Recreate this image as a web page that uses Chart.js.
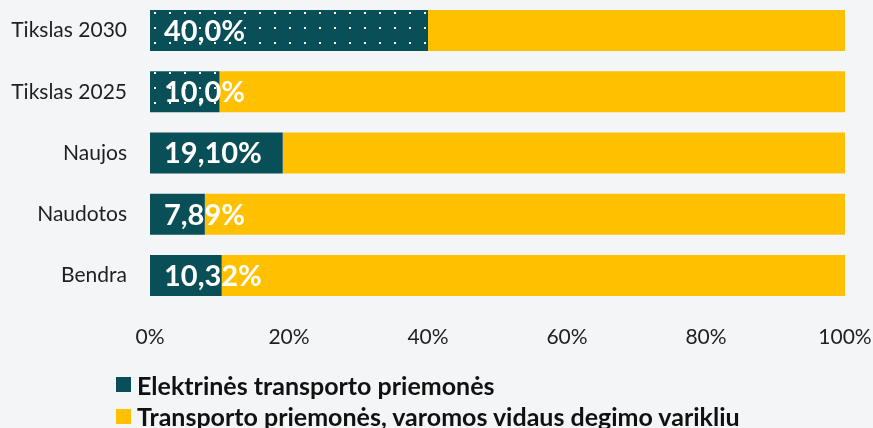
<!DOCTYPE html>
<html lang="lt">
<head>
<meta charset="utf-8">
<title>Elektrinės transporto priemonės</title>
<script src="https://cdn.jsdelivr.net/npm/chart.js@4/dist/chart.umd.min.js"></script>
<style>
    html, body {
        margin: 0;
        padding: 0;
        background: #F4F5F7;
        overflow: hidden;
    }
    #wrap {
        position: relative;
        width: 873px;
        height: 428px;
    }
    #legend {
        position: absolute;
        left: 116px;
        top: 369px;
        font-family: Lato, sans-serif;
        font-weight: bold;
        font-size: 25px;
        color: #111;
        white-space: nowrap;
    }
    .item {
        display: flex;
        align-items: center;
        height: 31.5px;
    }
    .box {
        width: 15px;
        height: 15px;
        margin-right: 6px;
    }
</style>
</head>
<body>
<div id="wrap">
    <canvas id="chart" width="873" height="428"></canvas>
    <div id="legend"></div>
</div>
<script>
// Kategorijos (iš viršaus į apačią)
const categories = ['Tikslas 2030', 'Tikslas 2025', 'Naujos', 'Naudotos', 'Bendra'];

// Serijos
const seriesNames = ['Elektrinės transporto priemonės', 'Transporto priemonės, varomos vidaus degimo varikliu'];
const electricShare = [40.0, 10.0, 19.10, 7.89, 10.32];
const combustionShare = [60.0, 90.0, 80.90, 92.11, 89.68];
const shareLabels = ['40,0%', '10,0%', '19,10%', '7,89%', '10,32%'];

// Ašies žymos
const xTicks = [0, 20, 40, 60, 80, 100];

const TEAL = '#094F57';
const YELLOW = '#FFC000';
const FONT = 'Lato, sans-serif';

// Taškuotas raštas tikslams
function makeDots() {
    const c = document.createElement('canvas');
    c.width = 15;
    c.height = 15;
    const g = c.getContext('2d');
    g.fillStyle = TEAL;
    g.fillRect(0, 0, 15, 15);
    g.fillStyle = '#ffffff';
    g.fillRect(4, 12, 2, 2);
    return g.createPattern(c, 'repeat');
}
const dots = makeDots();

// Užrašai ant stulpelių
const barLabels = {
    id: 'barLabels',
    afterDatasetsDraw(chart) {
        const ctx = chart.ctx;
        const meta = chart.getDatasetMeta(0);
        ctx.save();
        ctx.font = 'bold 29px ' + FONT;
        ctx.fillStyle = '#ffffff';
        ctx.textAlign = 'left';
        ctx.textBaseline = 'middle';
        meta.data.forEach((bar, i) => {
            ctx.fillText(shareLabels[i], bar.base + 14, bar.y + 1);
        });
        ctx.restore();
    }
};

const ctx = document.getElementById('chart').getContext('2d');

new Chart(ctx, {
    type: 'bar',
    data: {
        labels: categories,
        datasets: [{
            label: seriesNames[0],
            data: electricShare,
            backgroundColor: (c) => (c.dataIndex < 2 ? dots : TEAL),
            borderWidth: 0
        }, {
            label: seriesNames[1],
            data: combustionShare,
            backgroundColor: YELLOW,
            borderWidth: 0
        }]
    },
    options: {
        indexAxis: 'y',
        responsive: false,
        animation: false,
        layout: {
            padding: { top: -1, right: 28, left: 0, bottom: 0 }
        },
        datasets: {
            bar: {
                categoryPercentage: 1,
                barPercentage: 0.67
            }
        },
        plugins: {
            legend: { display: false },
            tooltip: { enabled: false }
        },
        scales: {
            x: {
                stacked: true,
                min: 0,
                max: 100,
                afterBuildTicks: (s) => { s.ticks = xTicks.map(v => ({ value: v })); },
                afterFit: (s) => {
                    s.height = 122;
                    s.paddingLeft = 0;
                    s.paddingRight = 0;
                },
                grid: { display: false, drawTicks: false },
                border: { display: false },
                ticks: {
                    padding: 19,
                    color: '#1f1f1f',
                    font: { family: FONT, size: 21 },
                    maxRotation: 0,
                    callback: (v) => v + '%'
                }
            },
            y: {
                stacked: true,
                afterFit: (s) => {
                    s.width = 150;
                    s.paddingTop = 0;
                    s.paddingBottom = 0;
                },
                grid: { display: false, drawTicks: false },
                border: { display: false },
                ticks: {
                    padding: 23,
                    color: '#1f1f1f',
                    font: { family: FONT, size: 21 }
                }
            }
        }
    },
    plugins: [barLabels]
});

// Legenda
const legend = document.getElementById('legend');
[TEAL, YELLOW].forEach((col, i) => {
    const item = document.createElement('div');
    item.className = 'item';
    const box = document.createElement('span');
    box.className = 'box';
    box.style.background = col;
    const txt = document.createElement('span');
    txt.textContent = seriesNames[i];
    item.appendChild(box);
    item.appendChild(txt);
    legend.appendChild(item);
});
</script>
</body>
</html>
